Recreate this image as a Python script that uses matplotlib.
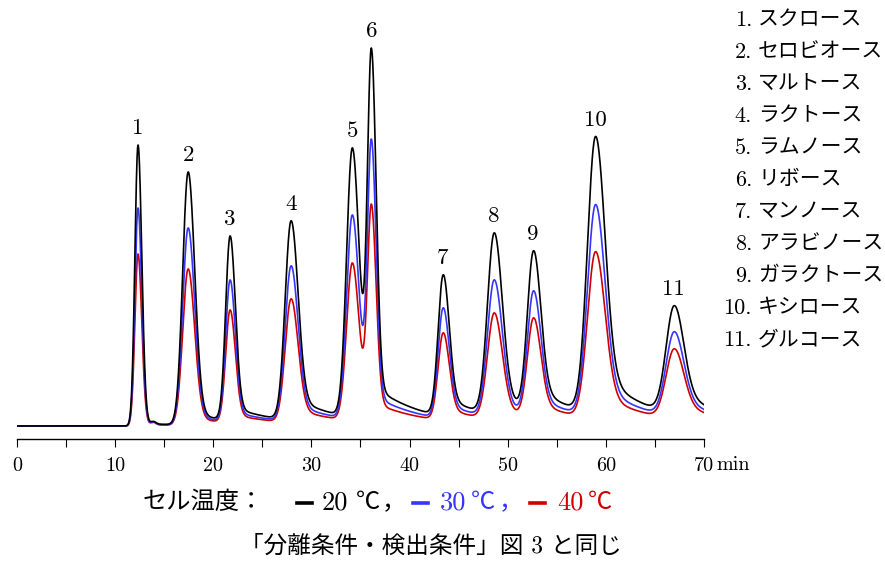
import numpy as np
import matplotlib
matplotlib.use('Agg')
import matplotlib.pyplot as plt

plt.rcParams['font.family'] = ['cmr10', 'Noto Sans CJK JP']

# peak table (heights in arbitrary detector units)
peak_ids = ['1', '2', '3', '4', '5', '6', '7', '8', '9', '10', '11']
sugars = ['スクロース', 'セロビオース', 'マルトース', 'ラクトース', 'ラムノース', 'リボース',
          'マンノース', 'アラビノース', 'ガラクトース', 'キシロース', 'グルコース']
retention = [12.33, 17.43, 21.7, 27.9, 34.15, 36.1, 43.4, 48.6, 52.6, 58.9, 66.9]
fwhm = [0.75, 1.3, 1.05, 1.4, 1.35, 0.95, 1.2, 1.6, 1.45, 1.9, 1.9]
tail_frac = [0.01, 0.05, 0.08, 0.13, 0.08, 0.065, 0.16, 0.13, 0.18, 0.19, 0.28]
height_20 = [281, 254, 190, 205, 278, 378, 151, 193, 175, 289, 120]
height_30 = [218, 198, 146, 160, 211, 287, 118, 146, 135, 221, 94]
height_40 = [172, 157, 116, 127, 163, 222, 93, 113, 108, 174, 77]
bump_rt = 13.9
bump_h = [2.5, 2.5, 2.5]

temps = ['20', '30', '40']
colors = ['black', '#3535ff', '#d00000']


def shape(t, mu, w, f, tau=5.0, asym=1.2):
    s = w / 2.355
    d = t - mu
    g = np.where(d < 0, np.exp(-0.5 * (d / s) ** 2), np.exp(-0.5 * (d / (asym * s)) ** 2))
    step = 1 / (1 + np.exp(-np.clip(d / (0.6 * s), -50, 50)))
    tail = f * np.exp(-np.clip(d, 0, None) / tau) * step
    return g + tail


def trace(t, heights, bump):
    mus = np.array(retention)
    A = np.array([[shape(mus[i], mus[j], fwhm[j], tail_frac[j]) for j in range(len(mus))]
                  for i in range(len(mus))])
    amps = np.linalg.solve(A, np.array(heights, dtype=float))
    y = np.zeros_like(t)
    for j in range(len(mus)):
        y += amps[j] * shape(t, mus[j], fwhm[j], tail_frac[j])
    y += bump * np.exp(-0.5 * ((t - bump_rt) / 0.25) ** 2)
    return y


t = np.linspace(0, 70, 4001)
series = [height_20, height_30, height_40]

fig = plt.figure(figsize=(8.85, 5.66), dpi=100)
ax = fig.add_axes([17 / 885, 127 / 566, 687 / 885, 419 / 566])

for k in [2, 1, 0]:
    ax.plot(t, trace(t, series[k], bump_h[k]), color=colors[k], lw=1.2)

for i, lab in enumerate(peak_ids):
    ax.text(retention[i], height_20[i] + 7, lab, ha='center', va='bottom', fontsize=16.5)

ax.set_xlim(0, 70)
ax.set_ylim(-13, 406)
for s in ['top', 'left', 'right']:
    ax.spines[s].set_visible(False)
ax.spines['bottom'].set_linewidth(1.0)
ax.set_yticks([])
ax.set_xticks(np.arange(0, 71, 10))
ax.set_xticklabels([str(v) for v in range(0, 71, 10)], fontsize=14.5)
ax.set_xticks(np.arange(5, 70, 10), minor=True)
ax.tick_params(axis='x', which='both', direction='out', length=5.8, width=0.8, pad=7)
fig.text(716 / 885, 1 - 470 / 566, 'min', ha='left', va='baseline', fontsize=14.5)

# compound list on the right
for i, name in enumerate(sugars):
    y = 1 - (20 + 32 * i) / 566
    fig.text(752 / 885, y, peak_ids[i] + '.', ha='right', va='center', fontsize=16)
    fig.text(758 / 885, y, name, ha='left', va='center', fontsize=15)

# temperature legend row
row_y = 1 - 503 / 566
fig.text(143 / 885, row_y, 'セル温度：', ha='left', va='center', fontsize=17.5)
dash_x = [297, 413, 530]
num_x = [322, 440, 557]
deg_x = [356, 471, 588]
comma_x = [382, 499, None]
for k in range(3):
    fig.add_artist(plt.Line2D([dash_x[k] / 885, (dash_x[k] + 15) / 885], [row_y, row_y],
                              color=colors[k], lw=2.6, transform=fig.transFigure))
    fig.text(num_x[k] / 885, row_y, temps[k], ha='left', va='center', fontsize=19, color=colors[k])
    fig.text(deg_x[k] / 885, row_y, '℃', ha='left', va='center', fontsize=17.5, color=colors[k])
    if comma_x[k] is not None:
        fig.text(comma_x[k] / 885, row_y, '，', ha='left', va='center', fontsize=17.5, color=colors[k])

fig.text(431 / 885, 1 - 547 / 566, '「分離条件・検出条件」図 3 と同じ', ha='center', va='center', fontsize=17)

fig.savefig('out.png', dpi=100)
